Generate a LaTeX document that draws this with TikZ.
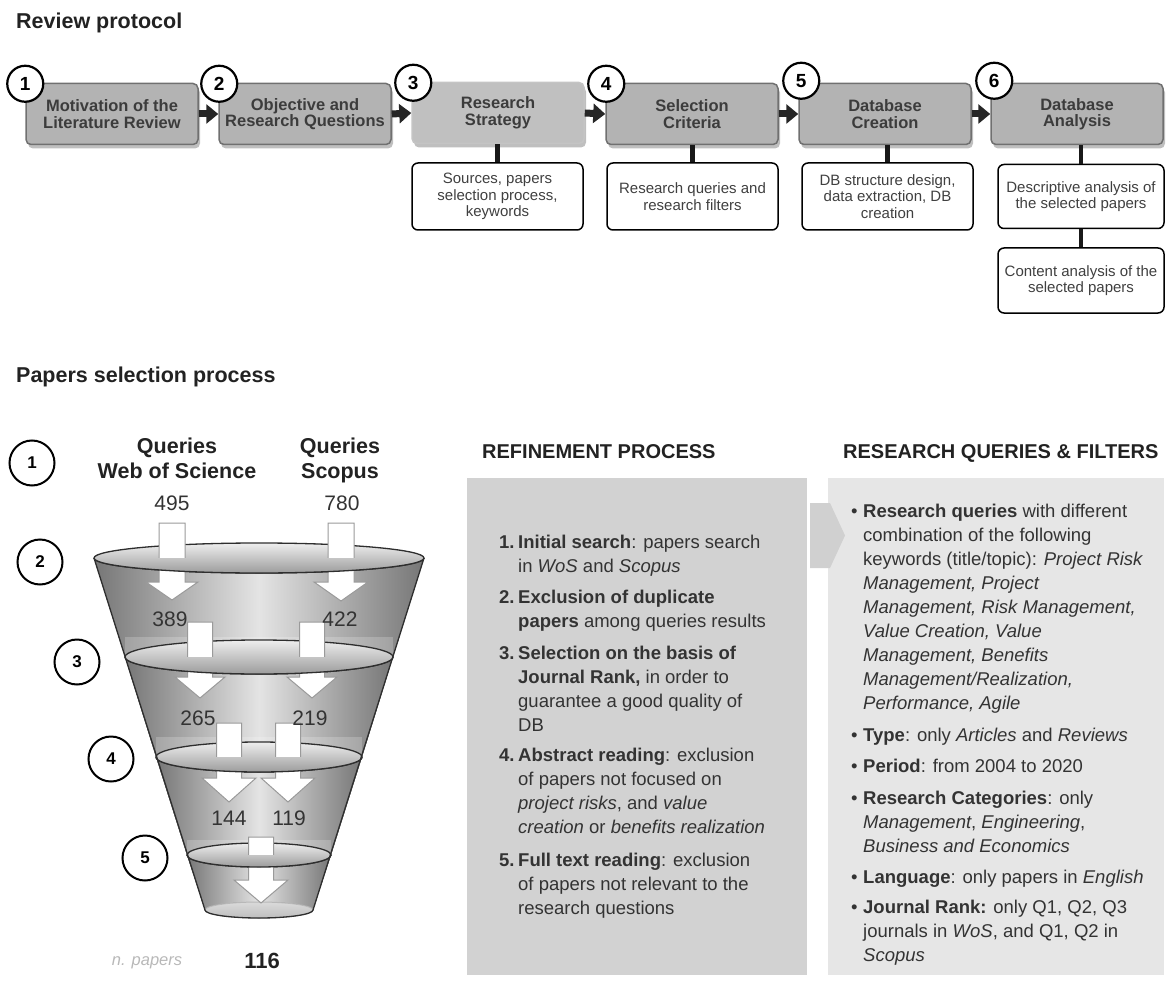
\documentclass[tikz,border=0pt]{standalone}
\usepackage{fontspec}
\setmainfont{Liberation Sans}
\usetikzlibrary{arrows.meta,shadows}

\definecolor{pboxfill}{HTML}{B3B3B3}
\definecolor{pboxline}{HTML}{707070}
\definecolor{pboxfilllight}{HTML}{C0C0C0}
\definecolor{pboxlinelight}{HTML}{C4C4C4}
\definecolor{ptext}{HTML}{3C3C3C}
\definecolor{stext}{HTML}{404040}
\definecolor{bodytext}{HTML}{333333}
\definecolor{titletext}{HTML}{222222}
\definecolor{refinefill}{HTML}{D2D2D2}
\definecolor{queryfill}{HTML}{E6E6E6}
\definecolor{arrowgray}{HTML}{D0D0D0}
\definecolor{conedark}{HTML}{767676}
\definecolor{conelight}{HTML}{E4E4E4}
\definecolor{disktop}{HTML}{EEEEEE}
\definecolor{diskbottom}{HTML}{9C9C9C}
\definecolor{basetop}{HTML}{DADADA}
\definecolor{basebottom}{HTML}{BEBEBE}
\definecolor{rimline}{HTML}{2E2E2E}
\definecolor{arrowrim}{HTML}{9A9A9A}
\definecolor{faint}{HTML}{B8B8B8}

% cone band between two levels: y1, r1, y2, r2 (centre x = 259)
\newcommand\coneband[4]{%
  \fill[left color=conedark, right color=conedark, middle color=conelight]
    (259-#2,#1) -- (259+#2,#1) -- (259+#4,#3) -- (259-#4,#3) -- cycle;}
% full level disk: cy, rx, ry
\newcommand\diskfull[3]{%
  \fill[top color=disktop, bottom color=diskbottom] (259,#1) ellipse [x radius=#2, y radius=#3];
  \draw[rim] (259,#1) ellipse [x radius=#2, y radius=#3];}
% front half of a level disk, laid over the arrows
\newcommand\diskfront[3]{%
  \begin{scope}
    \clip (259-#2-3,#1) rectangle (259+#2+3,#1+#3+3);
    \fill[top color=disktop, bottom color=diskbottom] (259,#1) ellipse [x radius=#2, y radius=#3];
    \draw[rim] (259,#1) ellipse [x radius=#2, y radius=#3];
  \end{scope}}
% white block arrow: cx, top, shoulder, tip, half stem, half head
\newcommand\funnelarrow[6]{%
  \draw[whitearrow] (#1-#5,#2) -- (#1+#5,#2) -- (#1+#5,#3) -- (#1+#6,#3)
    -- (#1,#4) -- (#1-#6,#3) -- (#1-#5,#3) -- cycle;}

\begin{document}
\begin{tikzpicture}[x=1pt,y=-1pt,
  pbox/.style={draw=pboxline, fill=pboxfill, line width=1.5pt, rounded corners=5pt,
    minimum width=172pt, minimum height=61pt, align=center, text=ptext,
    font={\bfseries\fontsize{16.5}{16.5}\selectfont},
    drop shadow={shadow xshift=2pt, shadow yshift=-4pt, opacity=0.25, fill=black}},
  pnum/.style={circle, draw=black, line width=2.2pt, fill=white, minimum size=36pt,
    inner sep=0pt, text=black, font={\bfseries\fontsize{19}{19}\selectfont}},
  sbox/.style={draw=black, fill=white, line width=1.5pt, rounded corners=6pt,
    minimum width=171pt, minimum height=67pt, align=center, text=stext,
    font={\fontsize{15}{16.5}\selectfont}},
  parrow/.style={draw=black!85, line width=7pt, -{Triangle[length=12pt,width=19pt]}},
  link/.style={draw=black!90, line width=4.5pt},
  fnum/.style={circle, draw=black, line width=2pt, fill=white, minimum size=45pt,
    inner sep=0pt, text=black, font={\bfseries\fontsize{17}{17}\selectfont}},
  rim/.style={draw=rimline, line width=1.3pt},
  whitearrow/.style={fill=white, draw=arrowrim, line width=1pt, line join=miter},
  count/.style={anchor=base, text=bodytext, font={\fontsize{21}{24}\selectfont}},
  bigtitle/.style={anchor=base west, inner sep=0pt, text=titletext,
    font={\bfseries\fontsize{21.5}{24}\selectfont}},
  head/.style={anchor=base west, inner sep=0pt, text=titletext,
    font={\bfseries\fontsize{20}{24}\selectfont}},
  listtext/.style={anchor=north west, inner sep=0pt, align=left, text=bodytext,
    font={\fontsize{18.5}{24}\selectfont}}
]
\useasboundingbox (0,0) rectangle (1166,981);

% ---------------- Review protocol ----------------
\node[bigtitle] (t1) at (16,29) {Review protocol};

\node[pbox] (b1) at (112,114) {Motivation of the\\Literature Review};
\node[pbox] (b2) at (305,114) {Objective and\\Research Questions};
\node[pbox, fill=pboxfilllight, draw=pboxlinelight] (b3) at (498,113) {Research\\Strategy};
\node[pbox] (b4) at (692,114) {Selection\\Criteria};
\node[pbox] (b5) at (885,114) {Database\\Creation};
\node[pbox] (b6) at (1077,114) {Database\\Analysis};

\draw[parrow] (b1.east) -- (b2.west);
\draw[parrow] (b2.east) -- (b3.west);
\draw[parrow] (b3.east) -- (b4.west);
\draw[parrow] (b4.east) -- (b5.west);
\draw[parrow] (b5.east) -- (b6.west);

\node[pnum] (c1) at ([xshift=0pt,yshift=-1pt]b1.north west) {1};
\node[pnum] (c2) at ([xshift=1pt,yshift=-1pt]b2.north west) {2};
\node[pnum] (c3) at ([xshift=2pt,yshift=-1pt]b3.north west) {3};
\node[pnum] (c4) at ([xshift=1pt,yshift=-1pt]b4.north west) {4};
\node[pnum] (c5) at ([xshift=3pt,yshift=2pt]b5.north west) {5};
\node[pnum] (c6) at ([xshift=4pt,yshift=2pt]b6.north west) {6};

\node[sbox] (s3) at (497.5,196.5) {Sources, papers\\selection process,\\keywords};
\node[sbox] (s4) at (692.5,196.5) {Research queries and\\research filters};
\node[sbox] (s5) at (887.5,196.5) {DB structure design,\\data extraction, DB\\creation};
\node[sbox, minimum width=166pt, minimum height=64pt] (s6a) at (1081,196.5) {Descriptive analysis of\\the selected papers};
\node[sbox, minimum width=166pt, minimum height=65pt] (s6b) at (1081,280.5) {Content analysis of the\\selected papers};

\draw[link] (s3.north |- b3.south) -- (s3.north);
\draw[link] (s4.north |- b4.south) -- (s4.north);
\draw[link] (s5.north |- b5.south) -- (s5.north);
\draw[link] (s6a.north |- b6.south) -- (s6a.north);
\draw[link] (s6a.south) -- (s6b.north);

% ---------------- Papers selection process ----------------
\node[bigtitle] (t2) at (16,382) {Papers selection process};

% funnel body
\coneband{558}{165}{657}{134}
\coneband{657}{134}{757}{103}
\coneband{757}{103}{855}{72}
\coneband{855}{72}{910}{54}
\fill[white, opacity=0.2] (259-134,637) rectangle (259+134,657);
\fill[white, opacity=0.2] (259-103,737) rectangle (259+103,757);
\fill[white, opacity=0.2] (259-72,840) rectangle (259+72,855);

% base of the funnel
\fill[top color=basetop, bottom color=basebottom] (259,910) ellipse [x radius=54, y radius=8];
\draw[draw=faint, line width=1pt] (259,910) ellipse [x radius=54, y radius=8];

% level disks
\diskfull{558}{165}{15}
\diskfull{657}{134}{17}
\diskfull{757}{103}{15}
\diskfull{855}{72}{12}

% flow arrows
\funnelarrow{172}{523}{582}{600}{13}{26}
\funnelarrow{341}{523}{582}{601}{13}{27}
\funnelarrow{200}{622}{677}{698}{12.5}{25}
\funnelarrow{312}{622}{677}{698}{12.5}{25}
\funnelarrow{229}{723}{778}{802}{12.5}{27}
\funnelarrow{288}{723}{778}{802}{12.5}{27}
\funnelarrow{261}{837}{880}{903}{12.5}{27}

% front halves of the disks
\diskfront{558}{165}{15}
\diskfront{657}{134}{17}
\diskfront{757}{103}{15}
\diskfront{855}{72}{12}

% funnel sides and base rim
\draw[rim] (94,558) -- (205,910);
\draw[rim] (424,558) -- (313,910);
\begin{scope}
  \clip (200,910) rectangle (318,921);
  \draw[rim] (259,910) ellipse [x radius=54, y radius=8];
\end{scope}

% sources and counts
\node[anchor=north, inner sep=0pt, align=center, text=titletext,
  font={\bfseries\fontsize{21.5}{25}\selectfont}] (wos) at (177,435.5) {\strut Queries\\Web of Science};
\node[anchor=north, inner sep=0pt, align=center, text=titletext,
  font={\bfseries\fontsize{21.5}{25}\selectfont}] (scopus) at (340,435.5) {\strut Queries\\Scopus};

\node[count] (n495) at (172,510.5) {495};
\node[count] (n780) at (342,510.5) {780};
\node[count] (n389) at (170,626.5) {389};
\node[count] (n422) at (340,626.5) {422};
\node[count] (n265) at (198,725.5) {265};
\node[count] (n219) at (310,725.5) {219};
\node[count] (n144) at (229,825.5) {144};
\node[count] (n119) at (289,825.5) {119};

\node[fnum] (f1) at (32,463) {1};
\node[fnum] (f2) at (40,562) {2};
\node[fnum] (f3) at (77,662) {3};
\node[fnum] (f4) at (111,759) {4};
\node[fnum] (f5) at (145,858) {5};

\node[anchor=base, text=faint, font={\itshape\fontsize{16.5}{18}\selectfont}] (np) at (147,965) {n. papers};
\node[anchor=base, text=titletext, font={\bfseries\fontsize{22}{24}\selectfont}] (total) at (262,968) {116};

% ---------------- refinement process ----------------
\node[head] (rph) at (482,458) {REFINEMENT PROCESS};
\node[head] (rqh) at (843,458) {RESEARCH QUERIES \& FILTERS};

\node[anchor=north west, fill=refinefill, minimum width=340pt, minimum height=497pt, inner sep=0pt] (refbox) at (467,478) {};
\node[anchor=north west, fill=queryfill, minimum width=336pt, minimum height=497pt, inner sep=0pt] (qbox) at (828,478) {};
\fill[arrowgray] (810,503) -- (830,503) -- (845,535.5) -- (830,568) -- (810,568) -- cycle;

\node[listtext] (r1) at (499,531.2) {\strut\makebox[19pt][l]{\textbf{1.}}\textbf{Initial search}: papers search\\
  \hspace*{19pt}in \textit{WoS} and \textit{Scopus}};
\node[listtext] (r2) at (499,586.2) {\strut\makebox[19pt][l]{\textbf{2.}}\textbf{Exclusion of duplicate}\\
  \hspace*{19pt}\textbf{papers} among queries results};
\node[listtext] (r3) at (499,642.2) {\strut\makebox[19pt][l]{\textbf{3.}}\textbf{Selection on the basis of}\\
  \hspace*{19pt}\textbf{Journal Rank,} in order to\\
  \hspace*{19pt}guarantee a good quality of\\
  \hspace*{19pt}DB};
\node[listtext] (r4) at (499,744.2) {\strut\makebox[19pt][l]{\textbf{4.}}\textbf{Abstract reading}: exclusion\\
  \hspace*{19pt}of papers not focused on\\
  \hspace*{19pt}\textit{project risks}, and \textit{value}\\
  \hspace*{19pt}\textit{creation} or \textit{benefits realization}};
\node[listtext] (r5) at (499,849.2) {\strut\makebox[19pt][l]{\textbf{5.}}\textbf{Full text reading}: exclusion\\
  \hspace*{19pt}of papers not relevant to the\\
  \hspace*{19pt}research questions};

% ---------------- research queries and filters ----------------
\node[listtext] (q1) at (851,500.2) {\strut\makebox[12pt][l]{•}\textbf{Research queries} with different\\
  \hspace*{12pt}combination of the following\\
  \hspace*{12pt}keywords (title/topic): \textit{Project Risk}\\
  \hspace*{12pt}\textit{Management, Project}\\
  \hspace*{12pt}\textit{Management, Risk Management,}\\
  \hspace*{12pt}\textit{Value Creation, Value}\\
  \hspace*{12pt}\textit{Management, Benefits}\\
  \hspace*{12pt}\textit{Management/Realization,}\\
  \hspace*{12pt}\textit{Performance, Agile}};
\node[listtext] (q2) at (851,724.2) {\strut\makebox[12pt][l]{•}\textbf{Type}: only \textit{Articles} and \textit{Reviews}};
\node[listtext] (q3) at (851,755.2) {\strut\makebox[12pt][l]{•}\textbf{Period}: from 2004 to 2020};
\node[listtext] (q4) at (851,787.2) {\strut\makebox[12pt][l]{•}\textbf{Research Categories}: only\\
  \hspace*{12pt}\textit{Management}, \textit{Engineering},\\
  \hspace*{12pt}\textit{Business and Economics}};
\node[listtext] (q5) at (851,866.2) {\strut\makebox[12pt][l]{•}\textbf{Language}: only papers in \textit{English}};
\node[listtext] (q6) at (851,896.2) {\strut\makebox[12pt][l]{•}\textbf{Journal Rank:} only Q1, Q2, Q3\\
  \hspace*{12pt}journals in \textit{WoS}, and Q1, Q2 in\\
  \hspace*{12pt}\textit{Scopus}};

\end{tikzpicture}
\end{document}
